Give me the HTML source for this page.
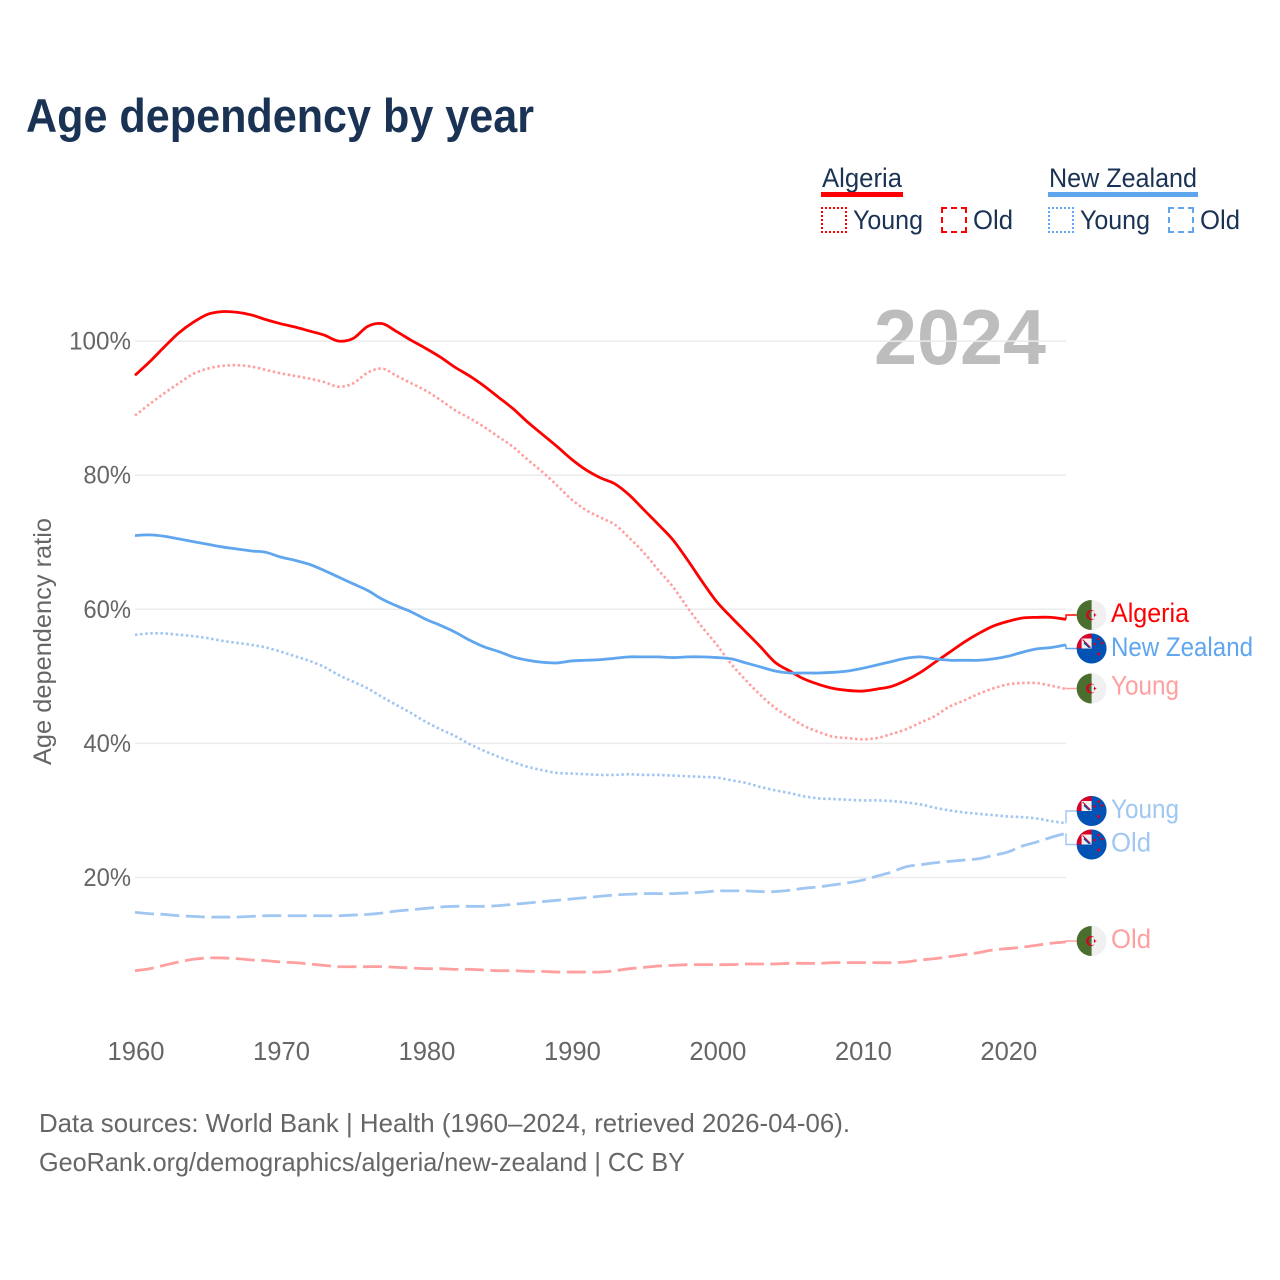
<!DOCTYPE html>
<html lang="en">
<head>
<meta charset="utf-8">
<title>Age dependency by year</title>
<style>
html,body{margin:0;padding:0;background:#fff;}
body{width:1280px;height:1280px;position:relative;overflow:hidden;font-family:"Liberation Sans",sans-serif;}
svg{position:absolute;left:0;top:0;}
svg text{font-family:"Liberation Sans",sans-serif;}
.swatch{position:absolute;width:22px;height:22px;top:207px;}
</style>
</head>
<body>
<svg id="chart" width="1280" height="1280" viewBox="0 0 1280 1280" xmlns="http://www.w3.org/2000/svg">
  <defs>
    <clipPath id="flag-clip"><circle cx="15" cy="15" r="15"/></clipPath>
    <symbol id="flag-dz" viewBox="0 0 30 30" width="30" height="30" overflow="visible">
      <g clip-path="url(#flag-clip)">
        <rect x="0" y="0" width="30" height="30" fill="#f0f0f0"/>
        <rect x="0" y="0" width="15" height="30" fill="#496e2d"/>
        <path d="M18.25 11.69 A5 5 0 1 0 18.25 18.31 A4 4 0 1 1 18.25 11.69Z" fill="#d80027"/>
        <polygon points="20.2,15 17.6,14 18.3,15 17.6,16" fill="#d80027"/>
        <polygon points="18,12.8 18.9,15 18,17.2 17.1,15" fill="#d80027"/>
      </g>
    </symbol>
    <symbol id="flag-nz" viewBox="0 0 30 30" width="30" height="30" overflow="visible">
      <g clip-path="url(#flag-clip)">
        <rect x="0" y="0" width="30" height="30" fill="#0052b4"/>
        <rect x="0" y="0" width="15" height="15" fill="#d80027"/>
        <rect x="5" y="5" width="10" height="10" fill="#f0f0f0"/>
        <path d="M8 7.5 L14.5 14 L12 14.5 L7 10Z" fill="#0052b4"/>
        <path d="M6 6 L13.5 13.5" stroke="#d80027" stroke-width="1"/>
        <circle cx="22" cy="5.5" r="1.3" fill="#d80027"/>
        <circle cx="18" cy="10.5" r="1.3" fill="#d80027"/>
        <circle cx="25.5" cy="9.5" r="1.3" fill="#d80027"/>
        <circle cx="22" cy="20.5" r="1.5" fill="#d80027"/>
      </g>
    </symbol>
  </defs>

  <text x="26" y="132" font-size="47" font-weight="700" fill="#1a3354" textLength="508" lengthAdjust="spacingAndGlyphs">Age dependency by year</text>

  <text x="822" y="187" font-size="27" fill="#1a3354" textLength="80" lengthAdjust="spacingAndGlyphs">Algeria</text>
  <rect x="821" y="192" width="82" height="5" fill="#ff0000"/>
  <text x="853" y="229" font-size="27" fill="#1a3354" textLength="70" lengthAdjust="spacingAndGlyphs">Young</text>
  <text x="973" y="229" font-size="27" fill="#1a3354" textLength="40" lengthAdjust="spacingAndGlyphs">Old</text>

  <text x="1049" y="187" font-size="27" fill="#1a3354" textLength="148" lengthAdjust="spacingAndGlyphs">New Zealand</text>
  <rect x="1048" y="192" width="150" height="5" fill="#5fa6ee"/>
  <text x="1080" y="229" font-size="27" fill="#1a3354" textLength="70" lengthAdjust="spacingAndGlyphs">Young</text>
  <text x="1200" y="229" font-size="27" fill="#1a3354" textLength="40" lengthAdjust="spacingAndGlyphs">Old</text>

  <text x="874" y="364" font-size="78" font-weight="700" fill="#bdbdbd" textLength="172" lengthAdjust="spacingAndGlyphs">2024</text>

  <g id="grid"></g>
  <g id="yticks"></g>
  <g id="xticks"></g>
  <text transform="translate(51,765) rotate(-90)" x="0" y="0" font-size="25" fill="#666666" textLength="247" lengthAdjust="spacingAndGlyphs">Age dependency ratio</text>

  <g id="series"></g>
  <g id="ends"></g>

  <text x="39" y="1132" font-size="26" fill="#666666" textLength="811" lengthAdjust="spacingAndGlyphs">Data sources: World Bank | Health (1960–2024, retrieved 2026-04-06).</text>
  <text x="39" y="1171" font-size="26" fill="#666666" textLength="646" lengthAdjust="spacingAndGlyphs">GeoRank.org/demographics/algeria/new-zealand | CC BY</text>
</svg>

<div class="swatch" style="left:821px;border:2px dotted #ff0000;"></div>
<div class="swatch" style="left:941px;border:2px dashed #ff0000;"></div>
<div class="swatch" style="left:1048px;border:2px dotted #5fa6ee;"></div>
<div class="swatch" style="left:1168px;border:2px dashed #5fa6ee;"></div>

<script>
const firstYear = 1960;
const xTickLabels = [1960, 1970, 1980, 1990, 2000, 2010, 2020];
const yTickValues = [20, 40, 60, 80, 100];

const algeriaTotal = [
  94.9,96.9,99.1,101.2,102.8,104.0,104.4,104.3,103.9,103.2,
  102.6,102.1,101.5,100.9,100.0,100.4,102.2,102.6,101.4,100.1,
  98.9,97.6,96.1,94.8,93.3,91.6,89.9,87.9,86.1,84.3,
  82.4,80.8,79.6,78.7,77.0,74.8,72.6,70.3,67.3,64.1,
  61.1,58.8,56.6,54.4,52.1,50.8,49.6,48.8,48.2,47.9,
  47.8,48.1,48.5,49.4,50.6,52.1,53.6,55.1,56.4,57.5,
  58.2,58.7,58.8,58.8,58.5];
const algeriaYoung = [
  88.9,90.6,92.2,93.7,95.1,95.9,96.3,96.4,96.2,95.7,
  95.2,94.8,94.4,93.9,93.2,93.7,95.3,95.9,94.8,93.7,
  92.6,91.2,89.7,88.5,87.2,85.7,84.2,82.3,80.5,78.5,
  76.4,74.8,73.7,72.6,70.6,68.4,65.8,63.3,60.2,57.3,
  54.7,51.8,49.4,47.2,45.3,43.9,42.6,41.7,41.0,40.8,
  40.6,40.8,41.4,42.1,43.1,44.1,45.5,46.4,47.4,48.2,
  48.8,49.0,49.0,48.6,48.1];
const algeriaOld = [
  6.1,6.4,6.9,7.4,7.8,8.0,8.0,7.9,7.7,7.6,
  7.4,7.3,7.1,6.9,6.7,6.7,6.7,6.7,6.6,6.5,
  6.4,6.4,6.3,6.3,6.2,6.1,6.1,6.0,6.0,5.9,
  5.9,5.9,5.9,6.1,6.4,6.6,6.8,6.9,7.0,7.0,
  7.0,7.0,7.1,7.1,7.1,7.2,7.2,7.2,7.3,7.3,
  7.3,7.3,7.3,7.4,7.7,7.9,8.2,8.5,8.8,9.2,
  9.4,9.6,9.9,10.2,10.4];
const newZealandTotal = [
  71.0,71.1,70.9,70.5,70.1,69.7,69.3,69.0,68.7,68.5,
  67.8,67.3,66.7,65.8,64.8,63.8,62.8,61.5,60.5,59.6,
  58.5,57.6,56.6,55.4,54.4,53.7,52.9,52.4,52.1,52.0,
  52.3,52.4,52.5,52.7,52.9,52.9,52.9,52.8,52.9,52.9,
  52.8,52.6,52.0,51.4,50.8,50.5,50.5,50.5,50.6,50.8,
  51.2,51.7,52.2,52.7,52.9,52.6,52.4,52.4,52.4,52.6,
  53.0,53.6,54.1,54.3,54.7];
const newZealandYoung = [
  56.2,56.4,56.4,56.2,56.0,55.7,55.3,55.0,54.7,54.3,
  53.7,53.0,52.3,51.4,50.2,49.2,48.2,46.9,45.7,44.5,
  43.2,42.1,41.1,39.9,38.9,38.0,37.2,36.5,36.0,35.6,
  35.5,35.4,35.3,35.3,35.4,35.3,35.3,35.2,35.1,35.0,
  34.9,34.5,34.1,33.5,33.0,32.6,32.1,31.8,31.7,31.6,
  31.5,31.5,31.4,31.2,30.9,30.4,30.0,29.7,29.5,29.3,
  29.1,29.0,28.8,28.4,28.1];
const newZealandOld = [
  14.8,14.6,14.5,14.3,14.2,14.1,14.1,14.1,14.2,14.3,
  14.3,14.3,14.3,14.3,14.3,14.4,14.5,14.7,15.0,15.2,
  15.4,15.6,15.7,15.7,15.7,15.8,16.0,16.2,16.4,16.6,
  16.8,17.0,17.2,17.4,17.5,17.6,17.6,17.6,17.7,17.8,
  18.0,18.0,18.0,17.9,17.9,18.1,18.4,18.6,18.9,19.2,
  19.6,20.2,20.8,21.6,21.9,22.2,22.4,22.6,22.8,23.3,
  23.8,24.7,25.3,26.0,26.6];

const NS = 'http://www.w3.org/2000/svg';
const lastYear = firstYear + algeriaTotal.length - 1;
function xScale(year) { return 135 + (year - firstYear) * (1066 - 135) / (2024 - 1960); }
function yScale(value) { return 1011.6 - value * 6.705; }

function make(parent, tag, attrs, text) {
  const el = document.createElementNS(NS, tag);
  for (const k in attrs) el.setAttribute(k, attrs[k]);
  if (text !== undefined) el.textContent = text;
  parent.appendChild(el);
  return el;
}

function smoothPath(values) {
  const p = values.map(function (v, i) { return [xScale(firstYear + i), yScale(v)]; });
  let d = 'M' + p[0][0].toFixed(2) + ' ' + p[0][1].toFixed(2);
  for (let i = 0; i < p.length - 1; i++) {
    const a = p[Math.max(i - 1, 0)], b = p[i], c = p[i + 1], e = p[Math.min(i + 2, p.length - 1)];
    const c1x = b[0] + (c[0] - a[0]) / 6, c1y = b[1] + (c[1] - a[1]) / 6;
    const c2x = c[0] - (e[0] - b[0]) / 6, c2y = c[1] - (e[1] - b[1]) / 6;
    d += 'C' + c1x.toFixed(2) + ' ' + c1y.toFixed(2) + ' ' + c2x.toFixed(2) + ' ' + c2y.toFixed(2) + ' ' + c[0].toFixed(2) + ' ' + c[1].toFixed(2);
  }
  return d;
}

const gridGroup = document.getElementById('grid');
const yTickGroup = document.getElementById('yticks');
yTickValues.forEach(function (v) {
  const line = make(gridGroup, 'line', { x1: 135, x2: 1066, y1: yScale(v), y2: yScale(v), stroke: '#ebebeb', 'stroke-width': 1.5 });
  
  
  const label = v + '%';
  const t = make(yTickGroup, 'text', { x: 131, y: yScale(v) + 8.5, 'text-anchor': 'end', 'font-size': 25, fill: '#666666', textLength: (label.length - 1) * 14.3 + 19, lengthAdjust: 'spacingAndGlyphs' }, label);
  
  
});

const xTickGroup = document.getElementById('xticks');
xTickLabels.forEach(function (year) {
  const t = make(xTickGroup, 'text', { x: xScale(year) + 1, y: 1060, 'text-anchor': 'middle', 'font-size': 25.6, fill: '#666666' }, String(year));
  
  
});

const DOT = '2.5 2.6';
const DASH = '19 6.5';
const seriesList = [
  { name: 'algeria-young', values: algeriaYoung, color: '#ff9f9f', dash: DOT, label: 'Young', flag: 'flag-dz', labelY: 694.5, flagY: 688.5, width: 2.6 },
  { name: 'algeria-old', values: algeriaOld, color: '#ff9f9f', dash: DASH, label: 'Old', flag: 'flag-dz', labelY: 948, flagY: 941, width: 2.8 },
  { name: 'new-zealand-young', values: newZealandYoung, color: '#a0c6f2', dash: DOT, label: 'Young', flag: 'flag-nz', labelY: 818, flagY: 811, width: 2.6 },
  { name: 'new-zealand-old', values: newZealandOld, color: '#a0c6f2', dash: DASH, label: 'Old', flag: 'flag-nz', labelY: 851.5, flagY: 844.5, width: 2.8 },
  { name: 'algeria-total', values: algeriaTotal, color: '#ff0000', dash: '', label: 'Algeria', flag: 'flag-dz', labelY: 622, flagY: 615, width: 2.8 },
  { name: 'new-zealand-total', values: newZealandTotal, color: '#5fa6ee', dash: '', label: 'New Zealand', flag: 'flag-nz', labelY: 656, flagY: 648.5, width: 2.8 }
];
const labelWidths = { 'Young': 68, 'Old': 40, 'Algeria': 78, 'New Zealand': 142 };

const seriesGroup = document.getElementById('series');
const endsGroup = document.getElementById('ends');
seriesList.forEach(function (s) {
  const attrs = { d: smoothPath(s.values), fill: 'none', stroke: s.color, 'stroke-width': s.width, 'stroke-linejoin': 'round' };
  if (s.dash) attrs['stroke-dasharray'] = s.dash;
  const line = make(seriesGroup, 'path', attrs);
  
  

  const endX = xScale(lastYear);
  const endY = yScale(s.values[s.values.length - 1]);
  const conn = make(endsGroup, 'polyline', { points: endX + ',' + endY + ' ' + endX + ',' + s.flagY + ' 1078,' + s.flagY, fill: 'none', stroke: s.color, 'stroke-width': 1.4 });
  
  

  const flag = make(endsGroup, 'use', { href: '#' + s.flag, x: 1076.6, y: s.flagY - 15, width: 30, height: 30 });
  
  

  const text = make(endsGroup, 'text', { x: 1111, y: s.labelY, 'font-size': 27, fill: s.color, textLength: labelWidths[s.label], lengthAdjust: 'spacingAndGlyphs' }, s.label);
  
  
});
</script>
</body>
</html>
